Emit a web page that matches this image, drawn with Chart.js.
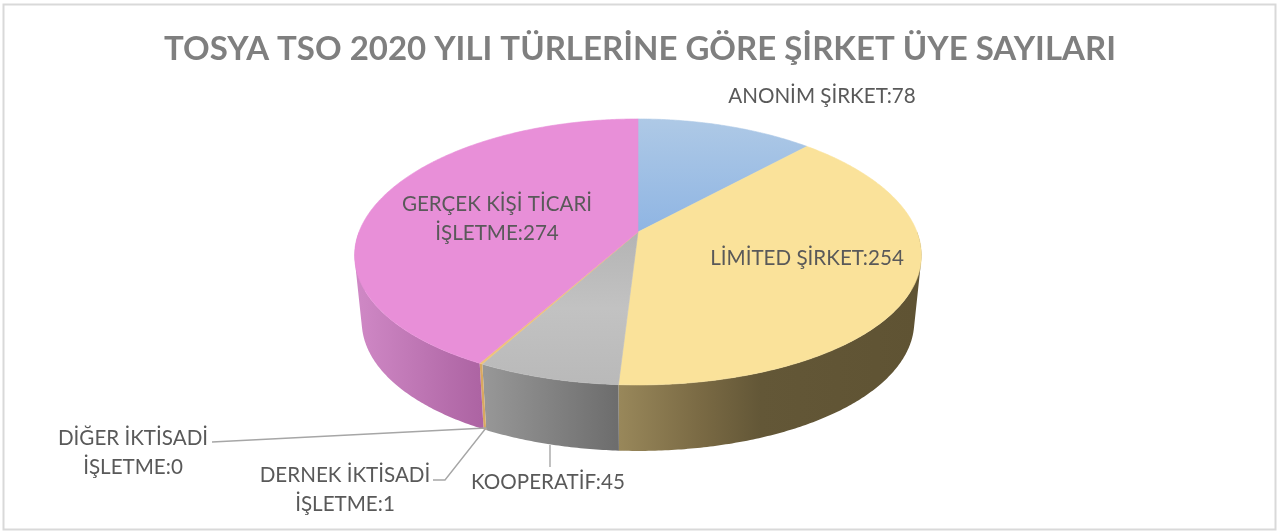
<!DOCTYPE html>
<html lang="tr"><head><meta charset="utf-8">
<style>html,body{margin:0;padding:0;background:#fff}#w{width:1280px;height:531px;position:relative}canvas{display:block}</style>
<script src="https://cdn.jsdelivr.net/npm/chart.js@4"></script></head>
<body><div id="w"><canvas id="c" width="1280" height="531"></canvas></div>
<script>
const categories = ["ANONİM ŞİRKET","LİMİTED ŞİRKET","KOOPERATİF","DERNEK İKTİSADİ İŞLETME","DİĞER İKTİSADİ İŞLETME","GERÇEK KİŞİ TİCARİ İŞLETME"];
const values = [78,254,45,1,0,274];
const colors = ["#a3c0e4","#fae29a","#bebebe","#eec27a","#f3cf8a","#e88fd8"];
const titleText = "TOSYA TSO 2020 YILI TÜRLERİNE GÖRE ŞİRKET ÜYE SAYILARI";
const labelLines = [["ANONİM ŞİRKET:"],["LİMİTED ŞİRKET:"],["KOOPERATİF:"],["DERNEK İKTİSADİ","İŞLETME:"],["DİĞER İKTİSADİ","İŞLETME:"],["GERÇEK KİŞİ TİCARİ","İŞLETME:"]];
const labelCentres = [[822,96],[807,258],[548,482],[345,475],[133,438],[497,204]];
const leaders = [null,null,[[550,445],[550,467]],[[433,480],[445,480],[486,428]],[[212,442],[486,428]],null];
const LINE_GAP = 29.5;
const P = {cx:638, cy:232, rx:279, ry:130, kx:0.175, ky:0.15, depth:66, bottomX:0.975};
const wallStops = [
  null,
  [[620,"#98875a"],[700,"#7a6a44"],[760,"#635737"],[915,"#5f5333"]],
  [[485,"#979797"],[620,"#6c6c6c"]],
  [[479,"#d8a860"],[486,"#d8a860"]],
  null,
  [[358,"#cf88c5"],[480,"#ad64a3"]]
];
function proj(a,bottom){
  const u=Math.cos(a), v=Math.sin(a);
  return [P.cx+P.rx*(bottom?P.bottomX:1)*u/(1-P.kx*v), P.cy+(bottom?P.depth:0)+P.ry*v/(1-P.ky*v)];
}
function sweep(ctx,a0,a1){
  const n=Math.max(2,Math.ceil(Math.abs(a1-a0)/0.01));
  for(let i=0;i<=n;i++){
    const p=proj(a0+(a1-a0)*i/n,false);
    ctx.lineTo(p[0],p[1]);
  }
}
function wallPath(ctx,a0,a1){
  const n=Math.max(2,Math.ceil(Math.abs(a1-a0)/0.01));
  for(let i=0;i<n;i++){
    const b0=a0+(a1-a0)*i/n, b1=a0+(a1-a0)*(i+1)/n;
    let q=[proj(b0,false),proj(b1,false),proj(b1,true),proj(b0,true)];
    let area=0;
    q.forEach((p,j)=>{const r=q[(j+1)%4];area+=p[0]*r[1]-r[0]*p[1];});
    if(area<0)q=q.reverse();
    ctx.moveTo(q[0][0],q[0][1]);
    for(let j=1;j<4;j++)ctx.lineTo(q[j][0],q[j][1]);
    ctx.closePath();
  }
}
function topFill(ctx,i,base){
  if(i===0){const g=ctx.createLinearGradient(0,119,0,232);g.addColorStop(0,"#aec9e6");g.addColorStop(1,"#8fb5e3");return g;}
  if(i===2){const g=ctx.createLinearGradient(0,232,0,385);g.addColorStop(0,"#b4b4b4");g.addColorStop(0.5,"#c2c2c2");g.addColorStop(1,"#b9b9b9");return g;}
  return base;
}
const pie3d={
  id:"pie3d",
  beforeDatasetsDraw(chart){
    const ctx=chart.ctx, arcs=chart.getDatasetMeta(0).data;
    ctx.save();
    arcs.forEach((arc,i)=>{
      const stops=wallStops[i];
      if(!stops||arc.circumference<=0)return;
      const a0=Math.max(arc.startAngle,0), a1=Math.min(arc.endAngle,Math.PI);
      if(a1<=a0)return;
      const g=ctx.createLinearGradient(stops[0][0],0,stops[stops.length-1][0],0);
      const span=stops[stops.length-1][0]-stops[0][0];
      stops.forEach(s=>g.addColorStop((s[0]-stops[0][0])/span,s[1]));
      ctx.beginPath();
      wallPath(ctx,a0,a1);
      ctx.fillStyle=g;
      ctx.fill("nonzero");
    });
    arcs.forEach((arc,i)=>{
      if(arc.circumference<=0)return;
      const f=topFill(ctx,i,arc.options.backgroundColor);
      ctx.beginPath();
      ctx.moveTo(P.cx,P.cy);
      sweep(ctx,arc.startAngle,arc.endAngle);
      ctx.closePath();
      ctx.fillStyle=f;ctx.strokeStyle=f;ctx.lineWidth=0.6;
      ctx.fill();ctx.stroke();
    });
    ctx.restore();
    return false;
  },
  afterDraw(chart){
    const ctx=chart.ctx;
    ctx.save();
    ctx.strokeStyle="#d9d9d9";ctx.lineWidth=2;ctx.strokeRect(3.5,4.5,1272,525);
    ctx.strokeStyle="#a6a6a6";ctx.lineWidth=1.4;
    leaders.forEach(l=>{if(!l)return;ctx.beginPath();l.forEach((p,i)=>i?ctx.lineTo(p[0],p[1]):ctx.moveTo(p[0],p[1]));ctx.stroke();});
    ctx.font='20.6px Lato';ctx.fillStyle="#595959";ctx.textAlign="center";ctx.textBaseline="middle";
    labelLines.forEach((lines,i)=>{
      const [x,y]=labelCentres[i];
      lines.forEach((t,j)=>{
        ctx.fillText(j===lines.length-1?t+values[i]:t,x,y+j*LINE_GAP);
      });
    });
    ctx.restore();
  }
};
new Chart(document.getElementById("c"),{
  type:"pie",
  data:{labels:categories,datasets:[{data:values,backgroundColor:colors,borderWidth:0}]},
  options:{responsive:false,animation:false,devicePixelRatio:1,rotation:0,
    plugins:{legend:{display:false},tooltip:{enabled:false},
      title:{display:true,text:titleText,color:"#7f7f7f",font:{family:"Lato",size:33,weight:"bold"},padding:{top:30,bottom:10}}}},
  plugins:[pie3d]
});
</script></body></html>
